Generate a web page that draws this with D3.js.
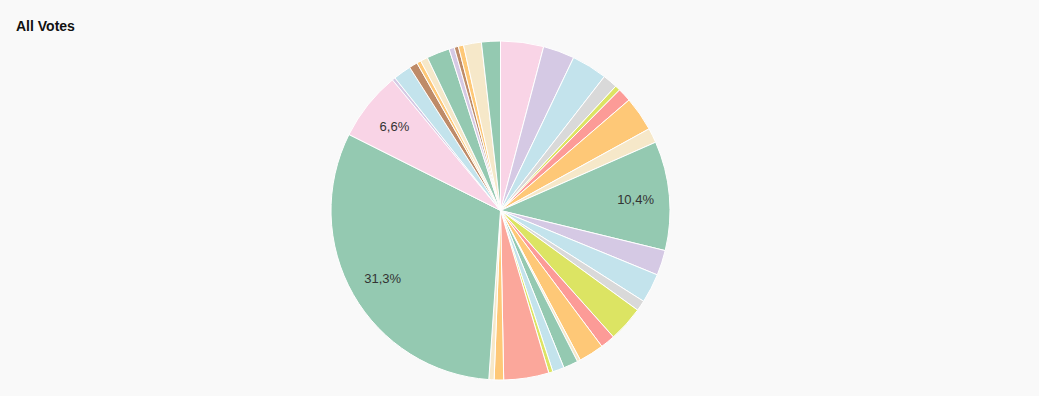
<!DOCTYPE html>
<html>
<head>
<meta charset="utf-8">
<script src="https://cdn.jsdelivr.net/npm/d3@7"></script>
<style>
  html, body { margin: 0; padding: 0; background: #f9f9f9; }
  svg { display: block; }
</style>
</head>
<body>
<svg id="chart" width="1039" height="396"></svg>
<script>
// Data (percent of all votes, clockwise from 12 o'clock)
const categories = [
  "c01","c02","c03","c04","c05","c06","c07","c08","c09","c10",
  "c11","c12","c13","c14","c15","c16","c17","c18","c19","c20",
  "c21","c22","c23","c24","c25","c26","c27","c28","c29","c30",
  "c31","c32","c33","c34","c35"
];
const values = [
  4.1, 3.0, 3.4, 1.4, 0.5, 1.3, 3.3, 1.4, 10.4, 2.4,
  2.8, 1.0, 3.4, 1.4, 2.4, 0.3, 1.4, 1.1, 0.4, 4.3,
  0.9, 0.5, 31.3, 6.6, 0.3, 1.7, 0.8, 0.4, 0.7, 2.2,
  0.5, 0.4, 0.5, 1.7, 1.8
];
const sliceColors = [
  "#f9d4e6","#d5c9e4","#c3e3ec","#d9d9d9","#dce463","#fc9b97","#fec877","#f6e8c9","#94c9b1","#d5c9e4",
  "#c3e3ec","#d9d9d9","#dce463","#fc9b97","#fec877","#f6e8c9","#94c9b1","#c3e3ec","#dce463","#fba79b",
  "#fec877","#f6e8c9","#94c9b1","#f9d4e6","#d5c9e4","#c3e3ec","#be8b68","#fec877","#f6e8c9","#94c9b1",
  "#d5c9e4","#be8b68","#fec877","#f6e8c9","#94c9b1"
];
const title = "All Votes";

const svg = d3.select("#chart");
const cx = 500.5, cy = 210.5, r = 169.5;

svg.append("text")
  .attr("x", 16).attr("y", 30.5)
  .attr("font-family", "'Liberation Sans', Arial, sans-serif")
  .attr("font-size", "14px").attr("font-weight", "bold")
  .attr("fill", "#111")
  .text(title);

const data = categories.map((c, i) => ({ name: c, value: values[i], color: sliceColors[i] }));
const total = d3.sum(values);

const pie = d3.pie().value(d => d.value).sort(null);
const arc = d3.arc().innerRadius(0).outerRadius(r);
const labelArc = d3.arc().innerRadius(r * 0.8).outerRadius(r * 0.8);

const g = svg.append("g").attr("transform", `translate(${cx},${cy})`);
const arcs = pie(data);

g.selectAll("path").data(arcs).join("path")
  .attr("d", arc)
  .attr("fill", d => d.data.color)
  .attr("stroke", "#ffffff")
  .attr("stroke-width", 1);

g.selectAll("text").data(arcs.filter(d => d.data.value / total >= 0.05)).join("text")
  .attr("transform", d => `translate(${labelArc.centroid(d)})`)
  .attr("text-anchor", "middle")
  .attr("dy", "0.4em")
  .attr("font-family", "'Liberation Sans', Arial, sans-serif")
  .attr("font-size", "13px")
  .attr("fill", "#333")
  .text(d => (d.data.value / total * 100).toFixed(1).replace(".", ",") + "%");
</script>
</body>
</html>
